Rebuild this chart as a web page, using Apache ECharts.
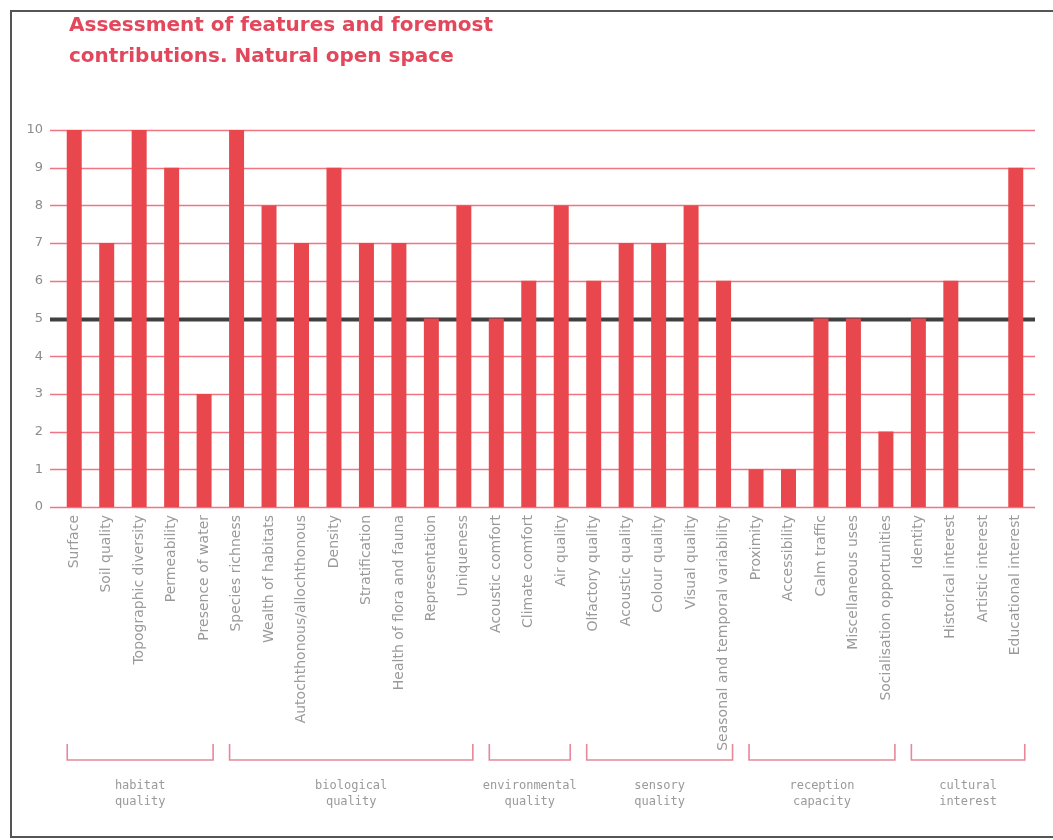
<!DOCTYPE html>
<html>
<head>
<meta charset="utf-8">
<script src="https://cdn.jsdelivr.net/npm/echarts@6/dist/echarts.min.js"></script>
<style>
  html, body { margin: 0; padding: 0; background: #fff; }
  #chart { width: 1053px; height: 840px; }
</style>
</head>
<body>
<div id="chart"></div>
<script>
// values
const categories = [
  'Surface', 'Soil quality', 'Topographic diversity', 'Permeability', 'Presence of water',
  'Species richness', 'Wealth of habitats', 'Autochthonous/allochthonous', 'Density', 'Stratification',
  'Health of flora and fauna', 'Representation', 'Uniqueness',
  'Acoustic comfort', 'Climate comfort', 'Air quality',
  'Olfactory quality', 'Acoustic quality', 'Colour quality', 'Visual quality', 'Seasonal and temporal variability',
  'Proximity', 'Accessibility', 'Calm traffic', 'Miscellaneous uses', 'Socialisation opportunities',
  'Identity', 'Historical interest', 'Artistic interest', 'Educational interest'
];
const scores = [
  10, 7, 10, 9, 3,
  10, 8, 7, 9, 7, 7, 5, 8,
  5, 6, 8,
  6, 7, 7, 8, 6,
  1, 1, 5, 5, 2,
  5, 6, 0, 9
];
const yTicks = [0, 1, 2, 3, 4, 5, 6, 7, 8, 9, 10];
const threshold = 5;
// groups: label, first and last category index
const groupNames = ['habitat\nquality', 'biological\nquality', 'environmental\nquality', 'sensory\nquality', 'reception\ncapacity', 'cultural\ninterest'];
const groupStart = [0, 5, 13, 16, 21, 26];
const groupEnd = [4, 12, 15, 20, 25, 29];

const RED = '#e8484d';
const GRID_RED = '#f07482';
const GREY = '#8c8c8c';

let chart = echarts.init(document.getElementById('chart'));

const option = {
  backgroundColor: '#fff',
  animation: false,
  title: {
    text: 'Assessment of features and foremost\ncontributions. Natural open space',
    left: 64,
    top: 5,
    textStyle: {
      color: '#e3475c',
      fontFamily: 'DejaVu Sans',
      fontWeight: 'bold',
      fontSize: 20,
      lineHeight: 31.5
    }
  },
  grid: {
    left: 58,
    right: 21,
    top: 130,
    bottom: 333
  },
  xAxis: {
    type: 'category',
    data: categories,
    boundaryGap: true,
    axisLine: { show: false },
    axisTick: { show: false },
    axisLabel: {
      interval: 0,
      rotate: 90,
      margin: 8,
      color: '#9a9a9a',
      fontSize: 14,
      fontFamily: 'DejaVu Sans'
    }
  },
  yAxis: {
    type: 'value',
    min: yTicks[0],
    max: yTicks[yTicks.length - 1],
    interval: 1,
    axisLine: { show: false },
    axisTick: { show: false },
    axisLabel: {
      margin: 15,
      color: GREY,
      fontSize: 13,
      fontFamily: 'DejaVu Sans'
    },
    splitLine: { show: false }
  },
  series: [{
    type: 'bar',
    data: scores,
    barWidth: 15,
    itemStyle: { color: RED },
    z: 3
  }]
};

chart.setOption(option);

// gridlines run a little past the plot area, so draw them from the value scale
const lineLeft = 50;
const lineRight = 1035;
const graphics = [{
  type: 'rect',
  shape: { x: 11, y: 11, width: 1060, height: 826 },
  style: { fill: 'none', stroke: '#555', lineWidth: 2 },
  silent: true,
  z: 10
}];
yTicks.forEach(t => {
  const y = Math.round(chart.convertToPixel({ yAxisIndex: 0 }, t)) + 0.5;
  const isRef = t === threshold;
  graphics.push({
    type: 'line',
    shape: { x1: lineLeft, y1: y, x2: lineRight, y2: y },
    style: { stroke: isRef ? '#404040' : GRID_RED, lineWidth: isRef ? 4 : 1.6 },
    silent: true,
    z: isRef ? 1 : 0
  });
});

// group brackets under the axis labels, placed from the category scale
const bracketTop = 744;
const bracketBottom = 760;
groupNames.forEach((name, i) => {
  const x0 = chart.convertToPixel({ xAxisIndex: 0 }, categories[groupStart[i]]) - 7;
  const x1 = chart.convertToPixel({ xAxisIndex: 0 }, categories[groupEnd[i]]) + 9;
  graphics.push({
    type: 'polyline',
    shape: { points: [[x0, bracketTop], [x0, bracketBottom], [x1, bracketBottom], [x1, bracketTop]] },
    style: { stroke: '#e6889a', lineWidth: 1.6, fill: 'none' },
    silent: true
  });
  graphics.push({
    type: 'text',
    x: (x0 + x1) / 2,
    y: 778,
    style: {
      text: name,
      fill: '#9a9a9a',
      font: '12px "DejaVu Sans Mono"',
      align: 'center',
      verticalAlign: 'top',
      lineHeight: 16
    },
    silent: true
  });
});
chart.setOption({ graphic: graphics });
</script>
</body>
</html>
